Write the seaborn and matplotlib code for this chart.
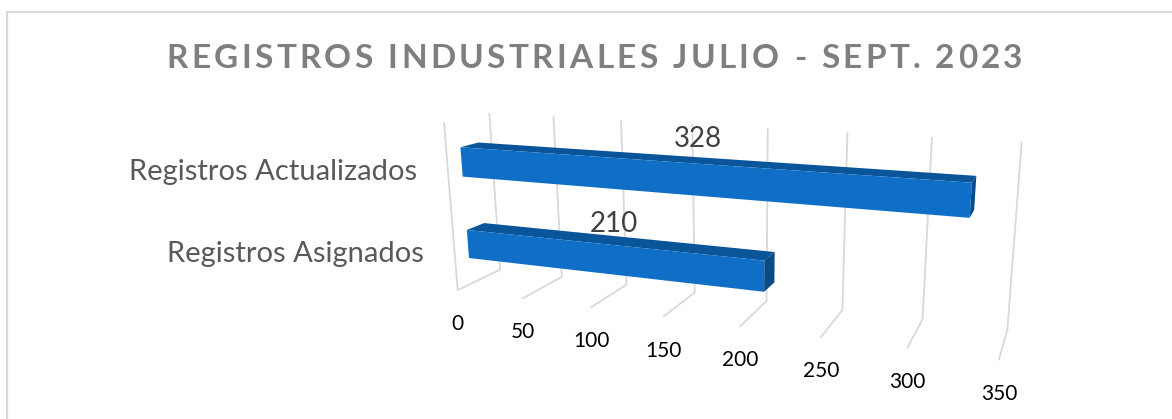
import matplotlib

matplotlib.use("Agg")
import matplotlib.pyplot as plt
import numpy as np
import pandas as pd
import seaborn as sns
from matplotlib.patches import Polygon
from matplotlib.text import Text
from matplotlib.transforms import IdentityTransform, Transform

categories = ["Registros Actualizados", "Registros Asignados"]
values = [328, 210]
ticks = [0, 50, 100, 150, 200, 250, 300, 350]
title = "REGISTROS INDUSTRIALES JULIO - SEPT. 2023"

WIDTH, HEIGHT = 1172, 419
VALUE_MAX = 350
BAR_DEPTH = (0.3, 0.7)  # back and front of the bars inside the 3D box
VALUE_LABEL_OFFSETS = [(-6, 19), (-7, 13)]

# where the corners of the 3D box sit in the picture: (value, height, depth) -> (px, py)
BOX = [
    ((0, 0, 0), (500, 270)),
    ((350, 0, 0), (1007.3, 330)),
    ((0, 1, 0), (489.3, 112.7)),
    ((350, 1, 0), (1021.7, 141.7)),
    ((0, 0, 1), (457.7, 290)),
    ((350, 0, 1), (999, 359.3)),
    ((0, 1, 1), (444, 122.7)),
    ((200, 0, 1), (740, 326.7)),
    ((200, 0, 0), (766.7, 300)),
]


def fit_camera(box):
    rows = []
    for (v, h, d), (px, py) in box:
        world = [v / VALUE_MAX, h, d, 1]
        rows.append(world + [0, 0, 0, 0] + [-px * w for w in world])
        rows.append([0, 0, 0, 0] + world + [-py * w for w in world])
    return np.linalg.svd(np.array(rows))[2][-1].reshape(3, 4)


CAMERA = fit_camera(BOX)
PIXELS = IdentityTransform()


def project(v, h, d):
    v, h, d = np.broadcast_arrays(np.asarray(v, float) / VALUE_MAX, h, d)
    world = np.stack([v, h, d, np.ones_like(v)], axis=-1)
    out = world @ CAMERA.T
    x = out[..., 0] / out[..., 2]
    y = out[..., 1] / out[..., 2]
    return np.stack([x, HEIGHT - y], axis=-1)


def height_of(y_pos):
    # categorical y position on the seaborn axes -> height inside the box
    return (1.5 - np.asarray(y_pos, float)) / 2


class DepthPlane(Transform):
    """Takes (value, categorical y) data to display pixels, on one depth of the box."""

    input_dims = output_dims = 2

    def __init__(self, plane_depth):
        super().__init__()
        self.plane_depth = plane_depth

    def transform_non_affine(self, values):
        values = np.asarray(values, float)
        return project(values[:, 0], height_of(values[:, 1]), self.plane_depth)


class TrackedText(Text):
    """One text, drawn with extra room between the letters."""

    tracking = 0

    def draw(self, renderer):
        prop = self.get_fontproperties()

        def measure(s):
            return renderer.get_text_width_height_descent(s, prop, False)[0]

        text = self.get_text()
        bar = measure("||")
        widths = [measure("|" + ch + "|") - bar for ch in text]
        total = sum(widths) + self.tracking * (len(text) - 1)
        x, y = self.get_transform().transform(self.get_position())
        x -= total / 2
        gc = renderer.new_gc()
        gc.set_foreground(self.get_color())
        for ch, w in zip(text, widths):
            renderer.draw_text(gc, x, HEIGHT - y, ch, prop, 0)
            x += w + self.tracking
        gc.restore()


sns.set_theme(style="white")
plt.rcParams["font.family"] = ["Lato", "DejaVu Sans"]

frame = pd.DataFrame({"categoria": categories, "registros": values})

fig = plt.figure(figsize=(WIDTH / 100, HEIGHT / 100), dpi=100)
ax = fig.add_axes([0, 0, 1, 1])
sns.barplot(
    data=frame,
    x="registros",
    y="categoria",
    orient="h",
    width=0.35,
    color="#0F6FC6",
    saturation=1,
    ax=ax,
    zorder=3,
)
ax.set_xlim(0, VALUE_MAX)
ax.set_ylim(1.5, -0.5)
ax.set_axis_off()

back_wall = DepthPlane(0)
front = DepthPlane(BAR_DEPTH[1])

# chart frame, cut by the picture on the right and at the bottom
fig.add_artist(plt.Line2D([6.5 / WIDTH, 6.5 / WIDTH, 1], [0, 1 - 12 / HEIGHT, 1 - 12 / HEIGHT], color="#D9D9D9", lw=1.6))

# gridlines on the back wall, the floor and the left edge of the side wall
grid = {"color": "#D9D9D9", "lw": 1.3, "clip_on": False, "zorder": 1}
ax.vlines(ticks, -0.5, 1.5, transform=back_wall, **grid)
for tick in ticks:
    (x0, y0), (x1, y1) = project(tick, 0, 0), project(tick, 0, 1)
    ax.plot([x0, x1], [y0, y1], transform=PIXELS, **grid)
(x0, y0), (x1, y1) = project(0, 0, 1), project(0, 1, 1)
ax.plot([x0, x1], [y0, y1], transform=PIXELS, **grid)

for bar, category, value, offset in zip(list(ax.patches), categories, values, VALUE_LABEL_OFFSETS):
    bottom, top = height_of(bar.get_y() + bar.get_height()), height_of(bar.get_y())
    end = bar.get_width()
    d_back, d_front = BAR_DEPTH
    bar.set_transform(front)
    bar.set_clip_on(False)
    bar.set_linewidth(0)

    top_face = project([0, end, end, 0], top, [d_front, d_front, d_back, d_back])
    side_face = project(end, [bottom, top, top, bottom], [d_front, d_front, d_back, d_back])
    ax.add_patch(Polygon(top_face, transform=PIXELS, fc="#0A5499", lw=0, clip_on=False, zorder=2))
    ax.add_patch(Polygon(side_face, transform=PIXELS, fc="#0A4A85", lw=0, clip_on=False, zorder=2))

    # category label left of the bar
    ax.annotate(
        category,
        xy=project(0, (top + bottom) / 2, d_front),
        xycoords="figure pixels",
        xytext=(-44, -10),
        textcoords="offset pixels",
        ha="right",
        va="center",
        fontsize=21,
        color="#595959",
    )
    # value label over the middle of the bar
    ax.annotate(
        str(value),
        xy=project(value / 2, top, d_back),
        xycoords="figure pixels",
        xytext=offset,
        textcoords="offset pixels",
        ha="center",
        va="center",
        fontsize=20,
        color="#404040",
    )

for tick in ticks:
    ax.annotate(
        str(tick),
        xy=project(tick, 0, 1),
        xycoords="figure pixels",
        xytext=(0, -34),
        textcoords="offset pixels",
        ha="center",
        va="center",
        fontsize=15,
        color="black",
    )

heading = TrackedText(
    594.5 / WIDTH,
    1 - 68.5 / HEIGHT,
    title,
    transform=fig.transFigure,
    ha="center",
    fontsize=24,
    fontweight="bold",
    color="#7F7F7F",
)
heading.tracking = 3.35
fig.add_artist(heading)

fig.savefig("out.png", dpi=100)
plt.close(fig)
